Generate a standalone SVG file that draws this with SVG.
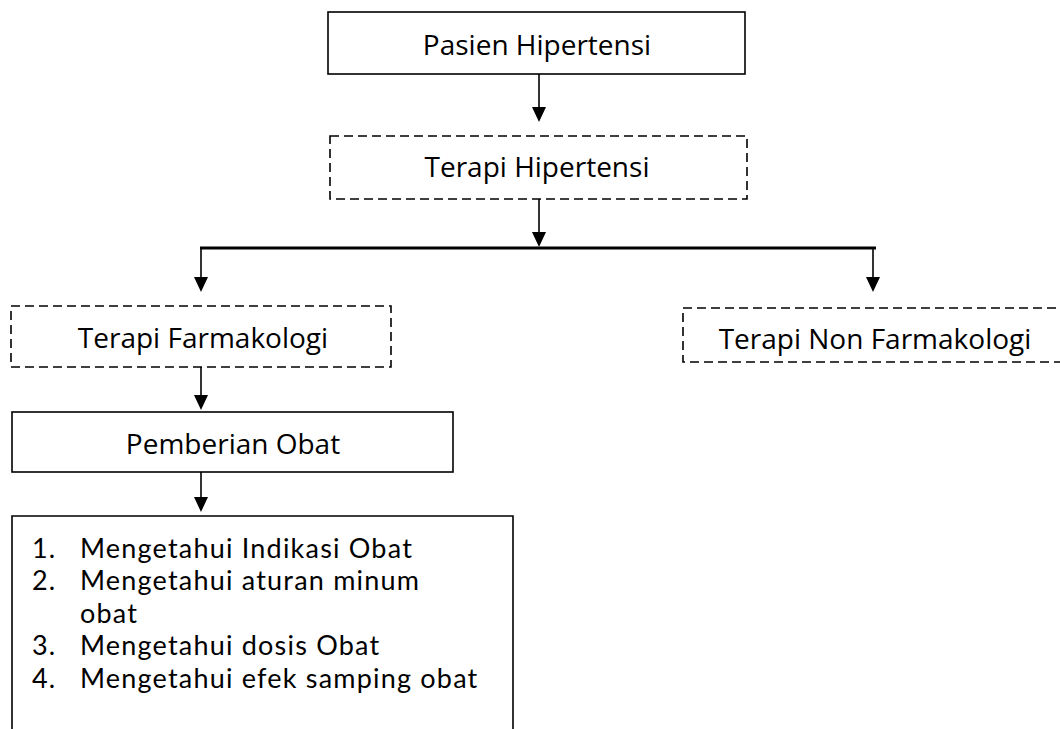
<svg xmlns="http://www.w3.org/2000/svg" width="1060" height="729" viewBox="0 0 1060 729">
<style>
.box{fill:#fff;stroke:#000;stroke-width:1.6}
.dash{fill:#fff;stroke:#000;stroke-width:1.6;stroke-dasharray:9 5}
.t{font-family:"Open Sans","Liberation Sans",sans-serif;font-size:28px;fill:#000}
.l{font-family:Lato,"Open Sans",sans-serif;font-size:27px;letter-spacing:1.2px;fill:#000}
.c{text-anchor:middle}
.ln{stroke:#000;stroke-width:1.6;fill:none}
.bar{stroke:#000;stroke-width:3;fill:none}
</style>
<g id="connectors">
<line class="ln" x1="539" y1="74" x2="539" y2="110"/>
<path d="M532,107 L546,107 L539,122 Z"/>
<line class="ln" x1="539" y1="199" x2="539" y2="240"/>
<path d="M532,232 L546,232 L539,247 Z"/>
<line class="bar" x1="200" y1="248" x2="876" y2="248"/>
<line class="ln" x1="201" y1="248" x2="201" y2="282"/>
<path d="M194,277 L208,277 L201,292 Z"/>
<line class="ln" x1="873" y1="248" x2="873" y2="282"/>
<path d="M866,277 L880,277 L873,292 Z"/>
<line class="ln" x1="201" y1="367" x2="201" y2="400"/>
<path d="M194,395 L208,395 L201,410 Z"/>
<line class="ln" x1="201" y1="472" x2="201" y2="502"/>
<path d="M194,497 L208,497 L201,512 Z"/>
</g>
<g id="n1">
<rect class="box" x="328" y="12" width="417" height="62"/>
<text class="t c" x="537" y="55">Pasien Hipertensi</text>
</g>
<g id="n2">
<rect class="dash" x="330" y="136" width="417" height="63"/>
<text class="t c" x="537" y="177">Terapi Hipertensi</text>
</g>
<g id="n3">
<rect class="dash" x="11" y="306" width="380" height="61"/>
<text class="t c" x="203" y="348">Terapi Farmakologi</text>
</g>
<g id="n4">
<rect class="dash" x="683" y="308" width="380" height="54"/>
<text class="t c" x="875" y="349">Terapi Non Farmakologi</text>
</g>
<g id="n5">
<rect class="box" x="12" y="412" width="441" height="60"/>
<text class="t c" x="233" y="454">Pemberian Obat</text>
</g>
<g id="n6">
<path class="ln" d="M12,740 L12,516 L513,516 L513,740"/>
<text class="l" x="32" y="558">1.</text><text class="l" x="80" y="558">Mengetahui Indikasi Obat</text>
<text class="l" x="32" y="590">2.</text><text class="l" x="80" y="590">Mengetahui aturan minum</text>
<text class="l" x="80" y="623">obat</text>
<text class="l" x="32" y="655">3.</text><text class="l" x="80" y="655">Mengetahui dosis Obat</text>
<text class="l" x="32" y="688">4.</text><text class="l" x="80" y="688">Mengetahui efek samping obat</text>
</g>
</svg>
